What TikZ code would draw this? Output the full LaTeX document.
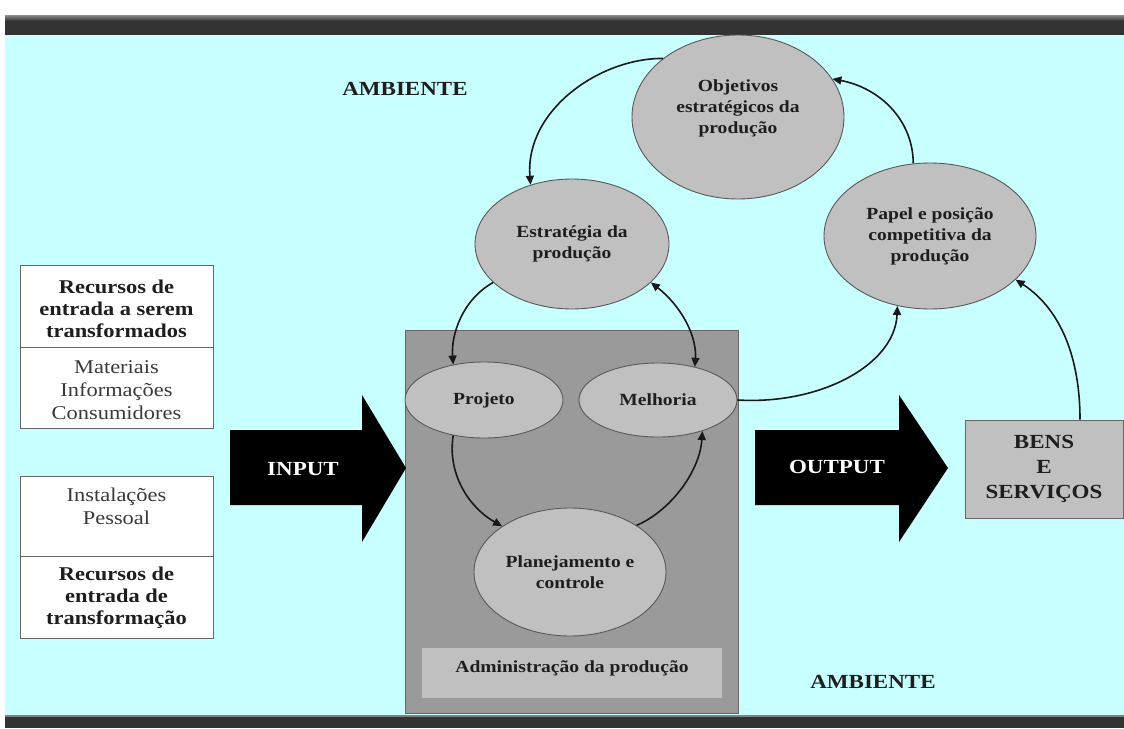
\documentclass[tikz,border=0pt]{standalone}
\usepackage{fontspec}
\setmainfont{Liberation Serif}[FakeStretch=1.15]
\usetikzlibrary{shapes.geometric,arrows.meta}
\definecolor{bgcyan}{HTML}{C8FFFF}
\definecolor{ellgray}{HTML}{C0C0C0}
\definecolor{boxgray}{HTML}{9A9A9A}
\definecolor{bardark}{HTML}{333333}
\definecolor{txt}{HTML}{1E1E1E}
\definecolor{txtreg}{HTML}{3A3A3A}
\begin{document}
\begin{tikzpicture}[x=1pt,y=-1pt,
  ell/.style={ellipse, draw=black!65, line width=0.9pt, fill=ellgray, inner sep=0pt},
  etext/.style={font=\fontsize{17}{21}\selectfont\bfseries, align=center, text=txt, inner sep=0pt},
  btext/.style={font=\fontsize{19.5}{22}\selectfont\bfseries, align=center, text=txt, inner sep=0pt},
  rtext/.style={font=\fontsize{19.5}{23}\selectfont, align=center, text=txtreg, inner sep=0pt},
  lbox/.style={draw=black!60, line width=1pt, fill=white, inner sep=0pt},
  conn/.style={draw=black!90, line width=1.6pt, -{Triangle[length=9pt,width=8pt]}},
  biconn/.style={draw=black!90, line width=1.6pt, {Triangle[length=9pt,width=8pt]}-{Triangle[length=9pt,width=8pt]}},
  bigarrow/.style={fill=black},
  atext/.style={font=\fontsize{20}{24}\selectfont\bfseries, text=white, inner sep=0pt}
]
\useasboundingbox (0,0) rectangle (1124,728);
% background
\fill[white] (0,0) rectangle (1124,728);
\fill[bgcyan] (5,35) rectangle (1124,716);
\shade[top color=black!45, bottom color=bardark] (5,15) rectangle (1124,21);
\fill[bardark] (5,21) rectangle (1124,35);
\fill[black!50] (5,715) rectangle (1124,717);
\fill[bardark] (5,717) rectangle (1124,728);

% ambient labels
\node[font=\fontsize{20}{24}\selectfont\bfseries, text=txt] (amb1) at (405,89) {AMBIENTE};
\node[font=\fontsize{20}{24}\selectfont\bfseries, text=txt] (amb2) at (873,682) {AMBIENTE};

% left boxes
\node[lbox, minimum width=193pt, minimum height=82pt] (r1a) at (116.5,306) {};
\node[lbox, minimum width=193pt, minimum height=81pt] (r1b) at (116.5,387.5) {};
\node[btext] (t1a) at (116.5,309) {Recursos de\\entrada a serem\\transformados};
\node[rtext] (t1b) at (116.5,390) {Materiais\\Informações\\Consumidores};
\node[lbox, minimum width=193pt, minimum height=80pt] (r2a) at (116.5,516) {};
\node[lbox, minimum width=193pt, minimum height=82pt] (r2b) at (116.5,597) {};
\node[rtext] (t2a) at (116.5,506) {Instalações\\Pessoal};
\node[btext] (t2b) at (116.5,598) {Recursos de\\entrada de\\transformação};

% production administration box
\node[draw=black!60, line width=1pt, fill=boxgray, minimum width=333pt, minimum height=383pt, inner sep=0pt] (adm) at (571.5,521.5) {};
\node[draw=none, fill=ellgray, minimum width=300pt, minimum height=50pt, inner sep=0pt] (admin) at (572,673) {};
\node[etext] (admtxt) at (572,668) {Administração da produção};

% ellipses
\node[ell, minimum width=212pt, minimum height=164pt] (obj) at (738,117) {};
\node[etext] (objtxt) at (738,108) {Objetivos\\estratégicos da\\produção};
\node[ell, etext, minimum width=194pt, minimum height=130pt] (est) at (572,244) {Estratégia da\\produção};
\node[ell, etext, minimum width=212pt, minimum height=146pt] (pap) at (930,236) {Papel e posição\\competitiva da\\produção};
\node[ell, etext, minimum width=158pt, minimum height=76pt] (proj) at (484,400) {Projeto};
\node[ell, etext, minimum width=158pt, minimum height=74pt] (mel) at (658,400) {Melhoria};
\node[ell, etext, minimum width=192pt, minimum height=128pt] (plan) at (570,572) {Planejamento e\\controle};

% goods box
\node[draw=black!60, line width=1pt, fill=ellgray, minimum width=158pt, minimum height=98pt, inner sep=0pt,
      font=\fontsize{20}{25}\selectfont\bfseries, text=txt, align=center] (bens) at (1044,469) {BENS\\E\\SERVIÇOS};

% big arrows
\fill[bigarrow] (230,430) -- (362,430) -- (362,395) -- (406,468) -- (362,542) -- (362,505) -- (230,505) -- cycle;
\node[atext] (inp) at (303,469) {INPUT};
\fill[bigarrow] (755,430) -- (899,430) -- (899,395) -- (948,468) -- (899,542) -- (899,505) -- (755,505) -- cycle;
\node[atext] (outp) at (837,467) {OUTPUT};

% connectors
\draw[conn] (obj.142) .. controls (600,58) and (525,110) .. (est.125);
\draw[conn] (pap.103) .. controls (913,120) and (880,88) .. (obj.22);
\draw[conn] (est.206) .. controls (462,300) and (451,335) .. (proj.131);
\draw[biconn] (est.334) .. controls (680,305) and (697,335) .. (mel.42);
\draw[conn] (mel.east) .. controls (820,405) and (895,365) .. (pap.245);
\draw[conn] ([xshift=36pt]bens.north) .. controls (1080,360) and (1062,310) .. (pap.333);
\draw[conn] (proj.229) .. controls (447,475) and (470,508) .. (plan.146);
\draw[conn] (plan.35) .. controls (672,510) and (700,470) .. (mel.325);
\end{tikzpicture}
\end{document}
